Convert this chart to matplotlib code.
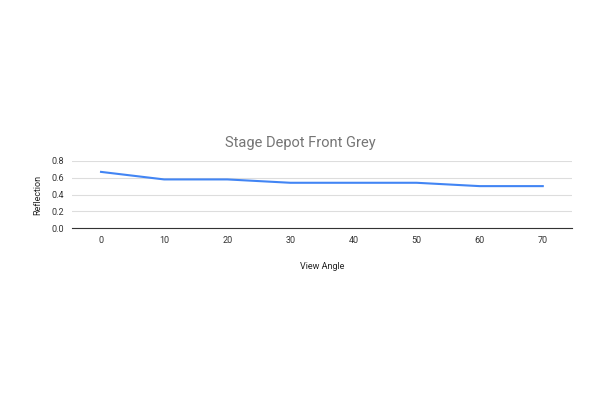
import matplotlib
matplotlib.use("Agg")
import matplotlib.pyplot as plt

angles = [0, 10, 20, 30, 40, 50, 60, 70]
reflection = [0.67, 0.58, 0.58, 0.54, 0.54, 0.54, 0.50, 0.50]
yticks = [0.0, 0.2, 0.4, 0.6, 0.8]

plt.rcParams['font.family'] = ['Roboto', 'DejaVu Sans']
fig = plt.figure(figsize=(6, 4), dpi=100)
ax = fig.add_axes([0.12, 0.43, 0.833, 0.1675])
ax.plot(angles, reflection, color='#4285f4', lw=1.5)
ax.set_xlim(-4.6, 74.6)
ax.set_ylim(0, 0.8)
ax.set_yticks(yticks)
ax.set_yticklabels([f"{v:.1f}" for v in yticks])
ax.set_xticks(angles)
ax.grid(axis='y', color='#dddddd', lw=0.8)
ax.set_axisbelow(True)
for s in ['top', 'right', 'left']:
    ax.spines[s].set_visible(False)
ax.spines['bottom'].set_color('#333333')
ax.tick_params(length=0, labelsize=6.5, colors='#333333', pad=6)
ax.set_xlabel('View Angle', fontsize=6.5, color='#222222', labelpad=12)
ax.set_ylabel('Reflection', fontsize=6.5, color='#222222', labelpad=6)
fig.text(0.5, 1 - 143 / 400, 'Stage Depot Front Grey', fontsize=10.5,
         color='#757575', ha='center', va='center')
fig.savefig('out.png', dpi=100)
